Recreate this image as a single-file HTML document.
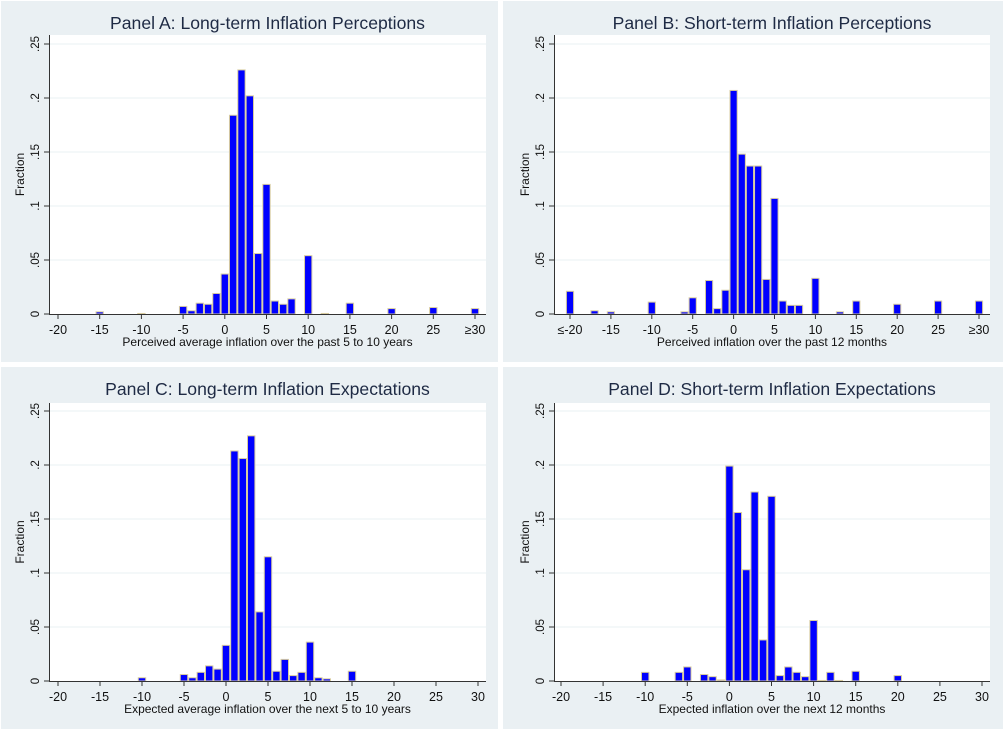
<!DOCTYPE html>
<html><head><meta charset="utf-8"><style>
body{margin:0;background:#fff;width:1004px;height:730px;overflow:hidden}
svg{display:block;font-family:"Liberation Sans",Arial,sans-serif}
</style></head><body>
<svg id="c" width="1004" height="730"></svg>
<script>
const ticksY = [0, 0.05, 0.1, 0.15, 0.2, 0.25];
const tickYLabels = ["0", ".05", ".1", ".15", ".2", ".25"];
const ticksX = [-20, -15, -10, -5, 0, 5, 10, 15, 20, 25, 30];
const labelsXA = ["-20","-15","-10","-5","0","5","10","15","20","25","≥30"];
const labelsXB = ["≤-20","-15","-10","-5","0","5","10","15","20","25","≥30"];
const labelsXC = ["-20","-15","-10","-5","0","5","10","15","20","25","30"];
const binsA = [-15,-10,-5,-4,-3,-2,-1,0,1,2,3,4,5,6,7,8,10,12,15,20,25,30];
const valsA = [.002,.0005,.007,.003,.010,.009,.019,.037,.184,.226,.202,.056,.120,.012,.009,.014,.054,.0005,.010,.005,.006,.005];
const binsB = [-20,-17,-15,-10,-6,-5,-3,-2,-1,0,1,2,3,4,5,6,7,8,10,13,15,20,25,30];
const valsB = [.021,.003,.002,.011,.002,.015,.031,.005,.022,.207,.148,.137,.137,.032,.107,.012,.008,.008,.033,.002,.012,.009,.012,.012];
const binsC = [-10,-5,-4,-3,-2,-1,0,1,2,3,4,5,6,7,8,9,10,11,12,15];
const valsC = [.003,.006,.003,.008,.014,.011,.033,.213,.206,.227,.064,.115,.009,.020,.005,.008,.036,.003,.002,.009];
const binsD = [-10,-6,-5,-3,-2,-1,0,1,2,3,4,5,6,7,8,9,10,11,12,13,15,20];
const valsD = [.008,.008,.013,.006,.004,.001,.199,.156,.103,.175,.038,.171,.005,.013,.008,.004,.056,.0005,.008,.0005,.009,.005];

const NS="http://www.w3.org/2000/svg";
const svg=document.getElementById('c');
function mk(tag,attrs,parent){const e=document.createElementNS(NS,tag);for(const k in attrs)e.setAttribute(k,attrs[k]);(parent||svg).appendChild(e);return e;}

const panels=[
 {id:'a',ox:0,oy:0,w:499,h:363,title:'Panel A: Long-term Inflation Perceptions',xl:'Perceived average inflation over the past 5 to 10 years',labels:labelsXA,bins:binsA,vals:valsA,
  axL:49,axR:486,axTop:35,x0:58,x30:475,y0:314,y25:44},
 {id:'b',ox:502,oy:0,w:502,h:363,title:'Panel B: Short-term Inflation Perceptions',xl:'Perceived inflation over the past 12 months',labels:labelsXB,bins:binsB,vals:valsB,
  axL:554,axR:990,axTop:35,x0:570,x30:979,y0:314,y25:44},
 {id:'c',ox:0,oy:366,w:499,h:364,title:'Panel C: Long-term Inflation Expectations',xl:'Expected average inflation over the next 5 to 10 years',labels:labelsXC,bins:binsC,vals:valsC,
  axL:49,axR:486,axTop:403,x0:58,x30:478,y0:681,y25:411},
 {id:'d',ox:502,oy:366,w:502,h:364,title:'Panel D: Short-term Inflation Expectations',xl:'Expected inflation over the next 12 months',labels:labelsXC,bins:binsD,vals:valsD,
  axL:554,axR:990,axTop:403,x0:561,x30:982,y0:681,y25:411}
];

panels.forEach(p=>{
  const g=mk('g',{});
  
  
  mk('rect',{x:p.ox+1,y:p.oy+1,width:p.w-2,height:p.h-2,fill:'#eaf0f3'},g);
  mk('rect',{x:p.axL,y:p.axTop,width:p.axR-p.axL,height:p.y0-p.axTop,fill:'#ffffff'},g);
  const X=v=>p.x0+(v+20)*(p.x30-p.x0)/50;
  const Y=v=>p.y0-v*(p.y0-p.y25)/0.25;
  const cx=(p.axL+p.axR)/2;
  const t=mk('text',{x:cx,y:p.oy+29,'text-anchor':'middle','font-size':'17.6',fill:'#1e2a44'},g);
  t.textContent=p.title;
  
  
  ticksY.forEach((v,i)=>{
    if(i>0) mk('line',{x1:p.axL,x2:p.axR,y1:Y(v),y2:Y(v),stroke:'#eaf0f3','stroke-width':1},g);
    mk('line',{x1:p.axL-5,x2:p.axL,y1:Y(v),y2:Y(v),stroke:'#333','stroke-width':1},g);
    const l=mk('text',{x:0,y:0,'font-size':'11.5',fill:'#111','text-anchor':'middle',transform:`translate(${p.axL-10},${Y(v)}) rotate(-90)`},g);
    l.textContent=tickYLabels[i];
    
    
  });
  const yt=mk('text',{x:0,y:0,'font-size':'12',fill:'#111','text-anchor':'middle',transform:`translate(${p.axL-25},${(p.axTop+p.y0)/2}) rotate(-90)`},g);
  yt.textContent='Fraction';
  
  
  const uw=(p.x30-p.x0)/50;
  p.bins.forEach((b,i)=>{
    const v=p.vals[i];
    const r=mk('rect',{x:X(b)-uw/2+0.5,y:Y(v),width:uw-1,height:p.y0-Y(v),fill:'#0000ff',stroke:'#d8cca0','stroke-width':1},g);
    
    
  });
  mk('line',{x1:p.axL,x2:p.axR,y1:p.y0+0.5,y2:p.y0+0.5,stroke:'#333','stroke-width':1},g);
  mk('line',{x1:p.axL+0.5,x2:p.axL+0.5,y1:p.axTop,y2:p.y0,stroke:'#333','stroke-width':1},g);
  ticksX.forEach((v,i)=>{
    mk('line',{x1:X(v),x2:X(v),y1:p.y0,y2:p.y0+5,stroke:'#333','stroke-width':1},g);
    const l=mk('text',{x:X(v),y:p.y0+20,'font-size':'12.5',fill:'#111','text-anchor':'middle'},g);
    l.textContent=p.labels[i];
    
    
  });
  const xt=mk('text',{x:cx,y:p.y0+32,'font-size':'12',fill:'#111','text-anchor':'middle'},g);
  xt.textContent=p.xl;
  
  
});
</script>
</body></html>
